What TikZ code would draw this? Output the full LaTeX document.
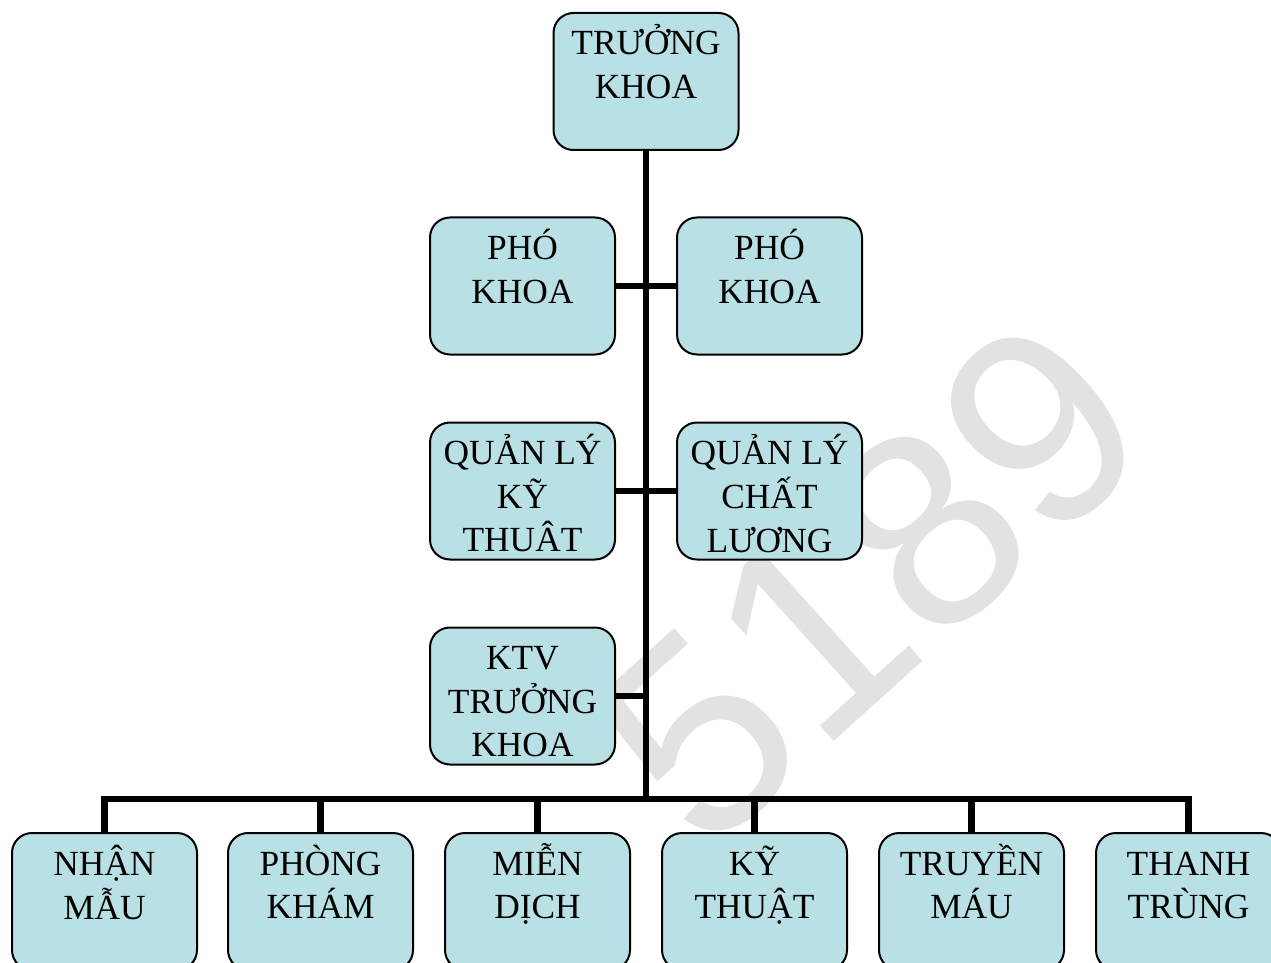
\documentclass[tikz,border=0pt]{standalone}
\usepackage{fontspec}
\setmainfont{Liberation Serif}
\newfontfamily\wmfont{Liberation Sans}
\usepackage{array}
\definecolor{boxfill}{RGB}{185,224,228}
\definecolor{wmgray}{RGB}{226,226,226}
\newcommand{\ml}[1]{\begin{tabular}[t]{@{}c@{}}#1\end{tabular}}
\begin{document}
\begin{tikzpicture}[x=0.75pt,y=-0.75pt,
  orgbox/.style={draw=black, line width=1.5pt, fill=boxfill, rounded corners=15pt,
    inner sep=0pt, outer sep=0pt, minimum width=138.75pt,
    text height=31.5pt, text depth=71.25pt,
    font=\fontsize{26.5}{32.8}\selectfont},
  link/.style={line width=5pt, draw=black}]
\useasboundingbox (0,0) rectangle (1271,963);
\clip (0,0) rectangle (1271,963);
% watermark
\node[rotate=42, anchor=base west, text=wmgray, inner sep=0pt,
  font=\wmfont\fontsize{208}{208}\selectfont] (wm) at (704,859) {5189};
% boxes
\node[orgbox] (top) at (646,81.5) {\ml{TRƯỞNG\\KHOA}};
\node[orgbox] (pk1) at (522.5,286) {\ml{PHÓ\\KHOA}};
\node[orgbox] (pk2) at (769.5,286) {\ml{PHÓ\\KHOA}};
\node[orgbox] (ql1) at (522.5,491) {\ml{QUẢN LÝ\\KỸ\\THUÂT}};
\node[orgbox] (ql2) at (769.5,491) {\ml{QUẢN LÝ\\CHẤT\\LƯƠNG}};
\node[orgbox] (ktv) at (522.5,696) {\ml{KTV\\TRƯỞNG\\KHOA}};
\node[orgbox] (b1) at (104.5,901.5) {\ml{NHẬN\\MẪU}};
\node[orgbox] (b2) at (320.5,901.5) {\ml{PHÒNG\\KHÁM}};
\node[orgbox] (b3) at (537.5,901.5) {\ml{MIỄN\\DỊCH}};
\node[orgbox] (b4) at (754.5,901.5) {\ml{KỸ\\THUẬT}};
\node[orgbox] (b5) at (971.5,901.5) {\ml{TRUYỀN\\MÁU}};
\node[orgbox] (b6) at (1188.5,901.5) {\ml{THANH\\TRÙNG}};
% connectors
\coordinate (bus) at (646,799);
\draw[link] (top.south) -- (bus);
\draw[link] (pk1.east) -- (pk2.west);
\draw[link] (ql1.east) -- (ql2.west);
\draw[link] (ktv.east) -- (ktv.east -| bus);
\draw[link] (b1.north) -- (b1.north |- bus) -- (b6.north |- bus) -- (b6.north);
\foreach \b in {b2,b3,b4,b5} \draw[link] (\b.north) -- (\b.north |- bus);
\end{tikzpicture}
\end{document}
